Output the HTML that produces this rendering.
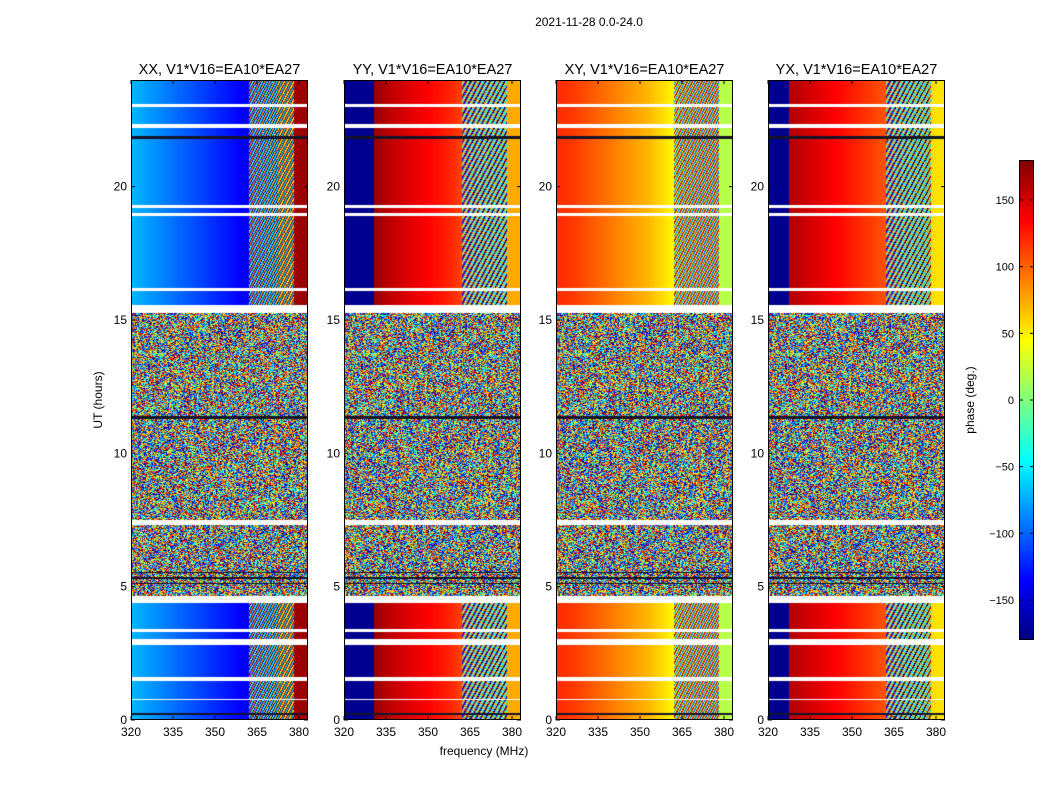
<!DOCTYPE html>
<html><head><meta charset="utf-8">
<style>
body{margin:0;background:#fff;width:1050px;height:800px;overflow:hidden;font-family:"Liberation Sans",sans-serif}
#wrap{position:relative;width:1050px;height:800px}
canvas{position:absolute}
svg{position:absolute;left:0;top:0}
</style></head><body>
<div id="wrap">
<svg id="svg" width="1050" height="800"></svg>
</div>
<script>
const panelTitles=["XX, V1*V16=EA10*EA27","YY, V1*V16=EA10*EA27","XY, V1*V16=EA10*EA27","YX, V1*V16=EA10*EA27"];
const panelLefts=[131,344,556,768];
const freqTicks=[320,335,350,365,380];
const timeTicks=[0,5,10,15,20];
const cbarTicks=[-150,-100,-50,0,50,100,150];
// phase profiles at frequencies 320..383 step 3 MHz
const freqBins=[320,323,326,329,332,335,338,341,344,347,350,353,356,359,362,365,368,371,374,377,380];
const profXX=[-70,-75,-80,-85,-90,-95,-100,-105,-110,-115,-120,-125,-130,-135,-140,-150,-160,-170,175,170,170];
const profYY=[-175,-175,-175,-175,170,160,155,150,145,140,135,130,125,120,110,90,85,80,80,75,75];
const profXY=[120,118,115,110,105,100,95,90,85,80,75,70,62,55,45,30,25,20,20,20,20];
const profYX=[-175,-175,-175,160,155,150,145,140,135,130,125,120,115,110,105,90,80,70,65,60,55];
const profiles=[profXX,profYY,profXY,profYX];
// time blocks (hours): type g=good, n=noisy, w=white gap, k=dark line
const blockStart=[0,0.2,0.75,0.8,1.45,1.6,2.8,3.05,3.3,3.4,4.4,4.65,5.1,5.15,5.3,5.35,5.5,5.55,5.7,7.3,7.5,11.3,11.4,15.25,15.55,16.1,16.2,18.9,19.0,19.2,19.3,21.8,21.9,22.2,22.35,23.0,23.1];
const blockEnd=[0.2,0.25,0.8,1.45,1.6,2.8,3.05,3.3,3.4,4.4,4.65,5.1,5.15,5.3,5.35,5.5,5.55,5.7,7.3,7.5,11.3,11.4,15.25,15.55,16.1,16.2,18.9,19.0,19.2,19.3,21.8,21.9,22.2,22.35,23.0,23.1,24];
const blockType=["g","k","w","g","w","g","w","g","w","g","w","n","k","n","k","n","k","n","n","w","n","k","n","w","g","w","g","w","g","w","g","k","g","w","g","w","g"];

const T=80,B=720,PW=177;
function xs(f,left){return left+(f-320)*2.8;}
function ys(h){return B-h*(B-T)/24;}
function jet(v){let t=(v+180)/360;t=Math.max(0,Math.min(1,t));
 function c(x){return Math.round(255*Math.max(0,Math.min(1,x)));}
 return [c(1.5-Math.abs(4*t-3)),c(1.5-Math.abs(4*t-2)),c(1.5-Math.abs(4*t-1))];}
function hash(i,j){let h=(i*374761393+j*668265263)|0;h=(h^(h>>>13))*1274126177|0;return ((h^(h>>>16))>>>0)/4294967296;}
const wrap=document.getElementById('wrap');
const svg=document.getElementById('svg');
const NS="http://www.w3.org/2000/svg";
function el(tag,attrs,txt){const e=document.createElementNS(NS,tag);for(const k in attrs)e.setAttribute(k,attrs[k]);if(txt!==undefined)e.textContent=txt;svg.appendChild(e);return e;}
panelLefts.forEach((L,p)=>{
 const cv=document.createElement('canvas');cv.width=PW;cv.height=B-T;cv.style.left=L+'px';cv.style.top=T+'px';
 
 
 wrap.insertBefore(cv,svg);
 const ctx=cv.getContext('2d');const img=ctx.createImageData(PW,B-T);
 const prof=profiles[p];
 for(let y=0;y<B-T;y++){
  const h=24-(y+0.5)*24/(B-T);
  let k=0;for(let i=0;i<blockStart.length;i++){if(h>=blockStart[i]&&h<blockEnd[i]){k=i;break;}}
  const ty=blockType[k];
  for(let x=0;x<PW;x++){
   const f=320+x/2.8;
   let col;
   if(ty==='w')col=[255,255,255];
   else if(ty==='k')col=[20,20,40];
   else if(ty==='n'){const r=hash(x,y);col=jet(-180+360*r);}
   else{
    let bi=Math.min(freqBins.length-2,Math.floor((f-320)/3));
    const t=Math.max(0,Math.min(1,(f-freqBins[bi])/3));
    const a=prof[bi],b=prof[bi+1];
    let v=Math.abs(b-a)>180?(t<0.5?a:b):a+(b-a)*t;
    if(f>362&&f<378){const s=Math.sin((x*1.3+y*0.7));if(Math.abs(s)>0.6)v=v+(s>0?120:-120);}
    if(v>180)v-=360;if(v<-180)v+=360;
    col=jet(v);
   }
   const o=(y*PW+x)*4;img.data[o]=col[0];img.data[o+1]=col[1];img.data[o+2]=col[2];img.data[o+3]=255;
  }
 }
 ctx.putImageData(img,0,0);
 const fr=el('rect',{x:L+0.5,y:T+0.5,width:PW-1,height:B-T-1,fill:'none',stroke:'#000','stroke-width':1});
 
 const tt=el('text',{x:L+PW/2,y:74,'text-anchor':'middle','font-size':14.5},panelTitles[p]);
 
 freqTicks.forEach(f=>{const x=xs(f,L);
  el('line',{x1:x,x2:x,y1:B,y2:B-4,stroke:'#000'});el('line',{x1:x,x2:x,y1:T,y2:T+4,stroke:'#000'});
  const t=el('text',{x:x,y:B+16,'text-anchor':'middle','font-size':12},String(f));
  });
 timeTicks.forEach(h=>{const y=ys(h);
  el('line',{x1:L,x2:L+4,y1:y,y2:y,stroke:'#000'});el('line',{x1:L+PW,x2:L+PW-4,y1:y,y2:y,stroke:'#000'});
  const t=el('text',{x:L-4,y:y+4,'text-anchor':'end','font-size':12},String(h));
  });
});
let t;
t=el('text',{x:589,y:26,'text-anchor':'middle','font-size':12},"2021-11-28 0.0-24.0");
t=el('text',{x:484,y:755,'text-anchor':'middle','font-size':12},"frequency (MHz)");
t=el('text',{x:102,y:400,'text-anchor':'middle','font-size':12,transform:'rotate(-90 102 400)'},"UT (hours)");
// colorbar
const cb=document.createElement('canvas');cb.width=15;cb.height=480;cb.style.left='1019px';cb.style.top='160px';


wrap.insertBefore(cb,svg);
const cc=cb.getContext('2d');for(let y=0;y<480;y++){const c=jet(180-y*360/480);cc.fillStyle=`rgb(${c})`;cc.fillRect(0,y,15,1);}
el('rect',{x:1019.5,y:160.5,width:14,height:479,fill:'none',stroke:'#000'});
cbarTicks.forEach(v=>{const y=640-(v+180)*480/360;
 el('line',{x1:1030,x2:1034,y1:y,y2:y,stroke:'#000'});el('line',{x1:1019,x2:1023,y1:y,y2:y,stroke:'#000'});
 const s=el('text',{x:1014,y:y+4,'text-anchor':'end','font-size':11},v<0?'\u2212'+(-v):String(v));
 });
t=el('text',{x:974,y:400,'text-anchor':'middle','font-size':12,transform:'rotate(-90 974 400)'},"phase (deg.)");
</script>
</body></html>
